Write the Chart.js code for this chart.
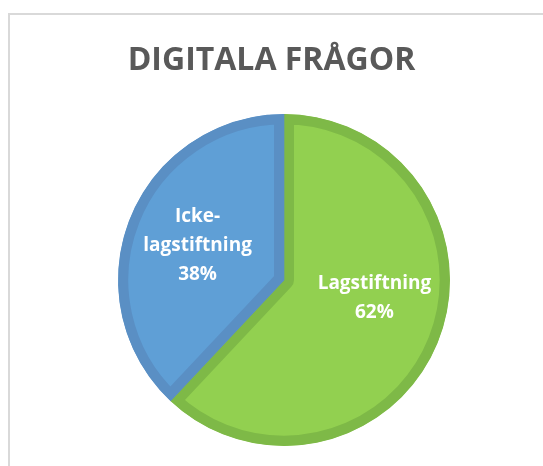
<!DOCTYPE html>
<html>
<head>
<meta charset="utf-8">
<script src="https://cdn.jsdelivr.net/npm/chart.js@4.4.0/dist/chart.umd.min.js"></script>
<style>
  html, body { margin: 0; padding: 0; background: #ffffff; overflow: hidden; }
  #wrap { position: relative; width: 543px; height: 466px; }
  #frame { position: absolute; left: 8px; top: 13px; width: 600px; height: 500px;
           border-top: 2px solid #d9d9d9; border-left: 2px solid #d9d9d9; box-sizing: border-box; }
  canvas { position: absolute; left: 0; top: 0; }
</style>
</head>
<body>
<div id="wrap">
  <div id="frame"></div>
  <canvas id="c" width="543" height="466"></canvas>
</div>
<script>
const chartTitle = 'DIGITALA FRÅGOR';
const categories = ['Lagstiftning', 'Icke-lagstiftning'];
const values = [62, 38];
const fillColors = ['#92D050', '#5F9FD6'];
const borderColors = ['#7EB947', '#5A8FC4'];

const titlePlugin = {
  id: 'offsetTitle',
  afterDraw(chart, args, opts) {
    const ctx = chart.ctx;
    ctx.save();
    ctx.font = opts.font;
    ctx.fillStyle = opts.color;
    ctx.textAlign = 'center';
    ctx.textBaseline = 'alphabetic';
    ctx.fillText(opts.text, opts.x, opts.y);
    ctx.restore();
  }
};

const labelPlugin = {
  id: 'sliceLabels',
  afterDatasetsDraw(chart, args, opts) {
    const ctx = chart.ctx;
    const meta = chart.getDatasetMeta(0);
    const data = chart.data.datasets[0].data;
    const total = data.reduce((a, b) => a + b, 0);
    ctx.save();
    ctx.font = opts.font;
    ctx.fillStyle = opts.color;
    ctx.textAlign = 'center';
    ctx.textBaseline = 'middle';
    meta.data.forEach((arc, i) => {
      const p = arc.getProps(['x', 'y', 'startAngle', 'endAngle', 'outerRadius'], true);
      const mid = (p.startAngle + p.endAngle) / 2;
      const r = p.outerRadius * opts.radiusFraction;
      const off = (opts.offsets && opts.offsets[i]) || {dx: 0, dy: 0};
      const cx = p.x + Math.cos(mid) * r + off.dx;
      const cy = p.y + Math.sin(mid) * r + off.dy;
      let name = chart.data.labels[i];
      let lines = [name];
      if (ctx.measureText(name).width > opts.maxWidth && name.indexOf('-') > 0) {
        const k = name.indexOf('-') + 1;
        lines = [name.slice(0, k), name.slice(k)];
      }
      lines.push(Math.round(data[i] / total * 100) + '%');
      const lh = opts.lineHeight;
      const y0 = cy - (lines.length - 1) * lh / 2;
      lines.forEach((t, j) => ctx.fillText(t, cx, y0 + j * lh));
    });
    ctx.restore();
  }
};

new Chart(document.getElementById('c'), {
  type: 'pie',
  data: {
    labels: categories,
    datasets: [{
      data: values,
      backgroundColor: fillColors,
      borderColor: borderColors,
      borderWidth: 10,
      borderAlign: 'inner'
    }]
  },
  options: {
    responsive: false,
    animation: false,
    layout: { padding: { left: 25, right: 0, top: 114, bottom: 20 } },
    plugins: {
      legend: { display: false },
      tooltip: { enabled: false },
      title: { display: false },
      offsetTitle: {
        text: chartTitle,
        font: 'bold 32px "Open Sans"',
        color: '#595959',
        x: 271.5,
        y: 70
      },
      sliceLabels: {
        font: 'bold 19px "Open Sans"',
        color: '#ffffff',
        lineHeight: 29,
        radiusFraction: 0.56,
        maxWidth: 130,
        offsets: [{dx: 4, dy: -16}, {dx: 0, dy: 0}]
      }
    }
  },
  plugins: [titlePlugin, labelPlugin]
});
</script>
</body>
</html>
